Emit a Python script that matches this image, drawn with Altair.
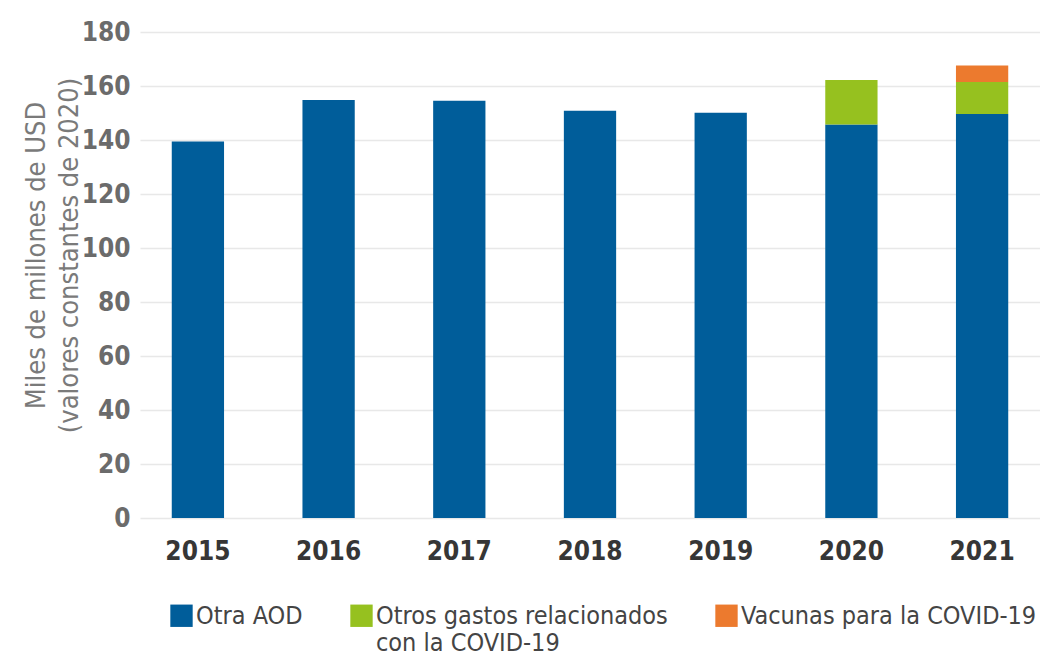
import altair as alt
import pandas as pd

years = ["2015", "2016", "2017", "2018", "2019", "2020", "2021"]
otra_aod = [139.4, 154.8, 154.5, 150.8, 150.1, 145.7, 149.6]
otros_covid = [0, 0, 0, 0, 0, 16.5, 11.9]
vacunas = [0, 0, 0, 0, 0, 0, 6.1]

series = ["Otra AOD", "Otros gastos relacionados\ncon la COVID-19", "Vacunas para la COVID-19"]
colors = ["#005d9a", "#96c11f", "#ec7a2e"]

rows = []
for i, y in enumerate(years):
    for s, vals in zip(series, [otra_aod, otros_covid, vacunas]):
        rows.append({"year": y, "serie": s, "value": vals[i], "order": series.index(s)})
df = pd.DataFrame(rows)

FONT = "Liberation Sans Narrow, DejaVu Sans Condensed, sans-serif"

label_expr = ("length(split(datum.label, '\\n')) > 1 ? "
              "[split(datum.label, '\\n')[0], split(datum.label, '\\n')[1]] : "
              "[datum.label, '']")

chart = alt.Chart(df).mark_bar().encode(
    x=alt.X("year:N", sort=years, title=None,
            scale=alt.Scale(paddingInner=0.6, paddingOuter=0.243),
            axis=alt.Axis(labelAngle=0, labelFontSize=26, labelFontWeight="bold",
                          labelColor="#363636", labelFont=FONT, ticks=False,
                          domain=False, labelPadding=20)),
    y=alt.Y("value:Q", stack="zero",
            scale=alt.Scale(domain=[0, 180]),
            axis=alt.Axis(values=list(range(0, 181, 20)), title=["Miles de millones de USD", "(valores constantes de 2020)"],
                          titleFont=FONT, titleFontSize=27, titleFontWeight="normal",
                          titleColor="#7a7a7a", titleAngle=270, titleX=-104, titleY=223,
                          titleBaseline="middle", titleAlign="center", titleLineHeight=33,
                          labelFont=FONT, labelFontSize=26, labelFontWeight="bold",
                          labelColor="#6b6b6b", ticks=False, domain=False, labelPadding=10,
                          gridColor="#e8e8e8", gridWidth=1.5)),
    color=alt.Color("serie:N", sort=series,
                    scale=alt.Scale(domain=series, range=colors),
                    legend=alt.Legend(title=None, orient="none", direction="horizontal",
                                      legendX=29, legendY=571, columns=3,
                                      symbolType="square", symbolSize=500, symbolStrokeWidth=0,
                                      labelFont=FONT, labelFontSize=25, labelColor="#444444",
                                      labelExpr=label_expr, labelOffset=2,
                                      labelBaseline="middle",
                                      columnPadding=46, labelLimit=400)),
    order=alt.Order("order:Q"),
).properties(
    width=900, height=486,
    padding={"left": 132, "top": 24, "right": 0, "bottom": 133},
    autosize=alt.AutoSizeParams(type="none"),
).configure_view(stroke=None)

chart.save("out.html", embed_options={"renderer": "svg", "actions": False})
